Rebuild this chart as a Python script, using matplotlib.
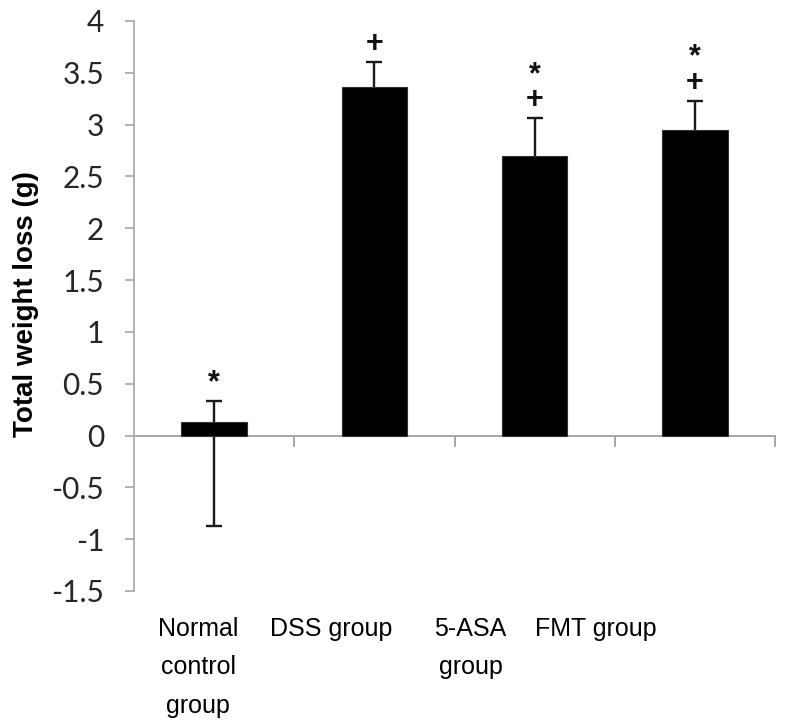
import matplotlib
matplotlib.use('Agg')
import matplotlib.pyplot as plt
import matplotlib.transforms as mtransforms

groups = ["Normal\ncontrol\ngroup", "DSS group", "5-ASA\ngroup", "FMT group"]
means = [0.13, 3.36, 2.70, 2.95]
err_low = [1.00, 0.25, 0.35, 0.28]
err_high = [0.20, 0.24, 0.36, 0.28]
marks = ["*", "+", "*\n+", "*\n+"]
yticks = [-1.5, -1, -0.5, 0, 0.5, 1, 1.5, 2, 2.5, 3, 3.5, 4]
ytick_labels = ["-1.5", "-1", "-0.5", "0", "0.5", "1", "1.5", "2", "2.5", "3", "3.5", "4"]

fig = plt.figure(figsize=(7.87, 7.2), dpi=100)
ax = fig.add_axes([134 / 787, 129 / 720, 641 / 787, 570 / 720])

x = list(range(len(groups)))
# error bars behind the bars, so the lower halves are hidden like in Excel
ax.errorbar(x, means, yerr=[err_low, err_high], fmt='none', ecolor='#1a1a1a',
            elinewidth=1.7, capsize=6, capthick=1.7, zorder=2)
ax.bar(x, means, width=0.41, color='black', edgecolor='#333333', linewidth=0.8, zorder=3)

# significance marks above the error bars
for i, m in enumerate(marks):
    top = means[i] + err_high[i]
    ax.text(i, top + 0.03, m, ha='center', va='bottom', fontsize=22,
            fontweight='bold', family='Liberation Sans', color='#111111',
            linespacing=0.8, multialignment='center')

ax.set_xlim(-0.5, len(groups) - 0.5)
ax.set_ylim(-1.5, 4)
ax.set_yticks(yticks)
ax.set_yticklabels(ytick_labels, family='Lato', fontsize=21.5, color='#262626')
ax.tick_params(axis='y', direction='out', length=6.5, width=1.2, color='#a6a6a6', pad=15)

ax.set_xticks([])
ax.set_xticks([i + 0.5 for i in x], minor=True)
ax.tick_params(axis='x', which='minor', direction='out', length=8, width=1.4,
               color='#a6a6a6', labelbottom=False)

for s in ['top', 'right']:
    ax.spines[s].set_visible(False)
ax.spines['bottom'].set_position(('data', 0))
ax.spines['bottom'].set_color('#a6a6a6')
ax.spines['bottom'].set_linewidth(1.4)
ax.spines['left'].set_color('#a6a6a6')
ax.spines['left'].set_linewidth(1.2)
ax.spines['bottom'].set_zorder(1)

# category labels sit below the plot, shifted left like in the original
label_shift = [-0.10, -0.27, -0.40, -0.62]
trans = mtransforms.blended_transform_factory(ax.transData, ax.transAxes)
for i, g in enumerate(groups):
    ax.text(i + label_shift[i], -26 / 570, g, transform=trans, ha='center', va='top',
            multialignment='center', fontsize=18, family='Liberation Sans',
            color='black', linespacing=1.75)

ax.text(-0.168, 0.5035, "Total weight loss (g)", transform=ax.transAxes, rotation=90,
        ha='center', va='center', fontsize=20, fontweight='bold',
        family='Liberation Sans', color='black')

plt.savefig('out.png', dpi=100, facecolor='white')
plt.close()
